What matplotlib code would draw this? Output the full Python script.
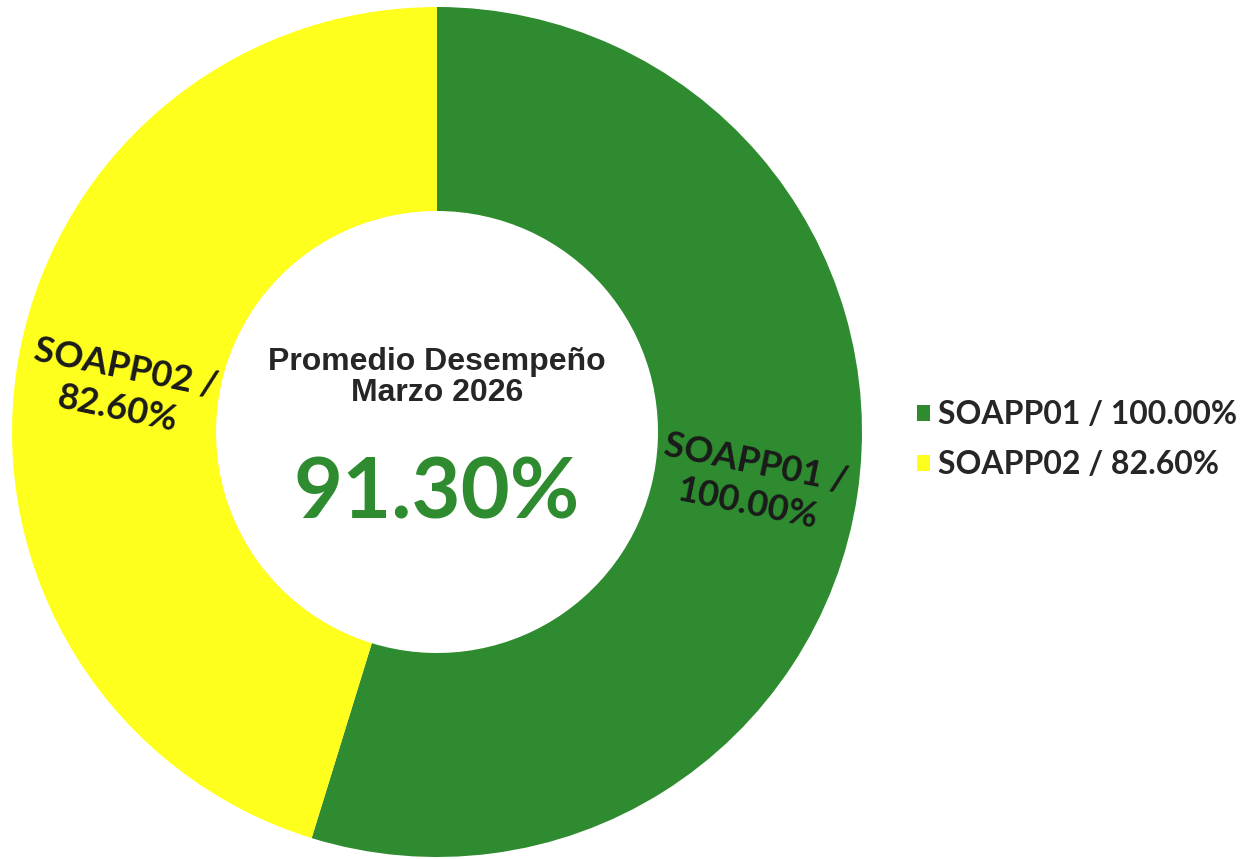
import matplotlib.pyplot as plt
import numpy as np

# data
names = ['SOAPP01', 'SOAPP02']
values = [100.00, 82.60]
colors = ['#2e8b2f', '#ffff1e']
promedio = 91.30
title_txt = 'Promedio Desempeño\nMarzo 2026'

labels = ['%s / %.2f%%' % (n, v) for n, v in zip(names, values)]
ring_labels = ['%s /\n%.2f%%' % (n, v) for n, v in zip(names, values)]

fig = plt.figure(figsize=(12.6, 8.59), dpi=100)
fig.patch.set_facecolor('white')

# pie axes placed so the ring sits where it is in the reference
cx, cy, R = 437, 432, 425
ax = fig.add_axes([(cx - R) / 1260, (859 - cy - R) / 859, 2 * R / 1260, 2 * R / 859])

wedges, _ = ax.pie(values, colors=colors, startangle=90, counterclock=False,
                   radius=1.0, wedgeprops=dict(width=0.48, linewidth=0))
for w in wedges:
    w.set_clip_on(False)
ax.set_xlim(-1, 1)
ax.set_ylim(-1, 1)
ax.set_aspect('equal')
ax.axis('off')

# labels inside the ring, rotated roughly along the radius
for w, lab in zip(wedges, ring_labels):
    ang = (w.theta1 + w.theta2) / 2.0
    r = 0.75
    x = r * np.cos(np.deg2rad(ang))
    y = r * np.sin(np.deg2rad(ang))
    rot = ang if x > 0 else ang - 180
    rot = (rot + 180) % 360 - 180 - 3
    ax.text(x, y - 0.01, lab, ha='center', va='center', rotation=rot,
            rotation_mode='anchor', fontsize=26, fontweight='bold',
            family='Lato', color='#1a1a1a', linespacing=1.3)

# centre text
ax.text(0, 0.128, title_txt, ha='center', va='center', fontsize=23,
        fontweight='bold', family='Liberation Sans', color='#262626',
        linespacing=1.05)
ax.text(0, -0.145, '%.2f%%' % promedio, ha='center', va='center',
        fontsize=61, fontweight='bold', family='Lato', color='#2e8b2f')

leg = fig.legend(wedges, labels, loc='center left',
                 bbox_to_anchor=(0.705, 0.488), frameon=False,
                 handlelength=0.4, handleheight=0.4, handletextpad=0.25,
                 labelspacing=0.65,
                 prop={'family': 'Lato', 'weight': 'bold', 'size': 23})
for t in leg.get_texts():
    t.set_color('#262626')

fig.savefig('out.png', dpi=100, facecolor='white')
